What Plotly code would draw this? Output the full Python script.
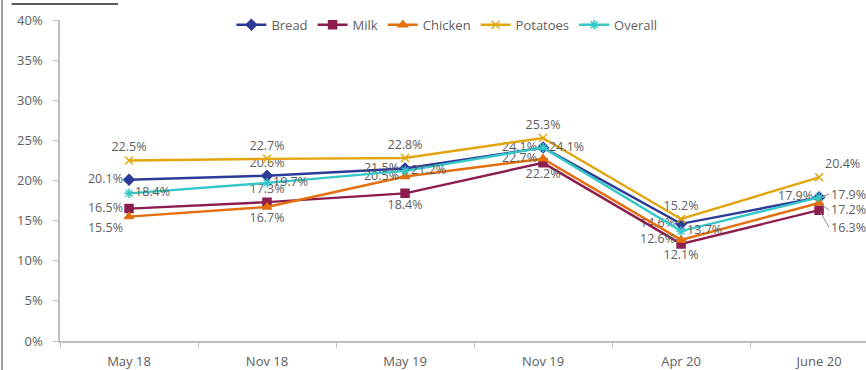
import plotly.graph_objects as go

# Survey waves and share of respondents (%) per item
periods = ["May 18", "Nov 18", "May 19", "Nov 19", "Apr 20", "June 20"]
bread = [20.1, 20.6, 21.5, 24.1, 14.6, 17.9]
milk = [16.5, 17.3, 18.4, 22.2, 12.1, 16.3]
chicken = [15.5, 16.7, 20.5, 22.7, 12.6, 17.2]
potatoes = [22.5, 22.7, 22.8, 25.3, 15.2, 20.4]
overall = [18.4, 19.7, 21.2, 24.1, 13.7, 17.9]

y_ticks = [0, 5, 10, 15, 20, 25, 30, 35, 40]

label_grey = "#5E5E5E"
axis_grey = "#BFBFBF"
FONT = "Open Sans, sans-serif"

series = [
    dict(name="Bread", y=bread, color="#2E3A97", symbol="diamond", size=8,
         pos=["middle left", "top center", "middle left", "middle left", "middle left", "middle left"]),
    dict(name="Milk", y=milk, color="#8C1D4E", symbol="square", size=8,
         pos=["middle left", "top center", "bottom center", "bottom center", "bottom center", None]),
    dict(name="Chicken", y=chicken, color="#E46F0C", symbol="triangle-up", size=8,
         pos=["bottom left", "bottom center", "middle left", "middle left", "middle left", None]),
    dict(name="Potatoes", y=potatoes, color="#E2A50E", symbol="x-thin-open", size=8,
         pos=["top center", "top center", "top center", "top center", "top center", "top right"]),
    dict(name="Overall", y=overall, color="#33C7C7", symbol="asterisk-open", size=8,
         pos=["middle right", "middle right", "middle right", "middle right", "middle right", None]),
]

fig = go.Figure()
for s in series:
    texts = [f"{v:.1f}%" if p is not None else "" for v, p in zip(s["y"], s["pos"])]
    fig.add_trace(go.Scatter(
        x=periods, y=s["y"], name=s["name"], mode="lines+markers+text",
        line=dict(color=s["color"], width=2.4),
        marker=dict(symbol=s["symbol"], size=s["size"], color=s["color"],
                    line=dict(color=s["color"], width=1.5)),
        text=texts,
        textposition=[p if p is not None else "middle right" for p in s["pos"]],
        textfont=dict(family=FONT, size=12.5, color=label_grey),
        cliponaxis=False,
    ))

# Labels at the last wave, pulled to the right with short leader lines
for vals, dy in [(overall, -3), (chicken, 7), (milk, 17)]:
    fig.add_annotation(
        x=periods[-1], y=vals[-1], text=f"{vals[-1]:.1f}%",
        showarrow=True, arrowhead=0, arrowwidth=1, arrowcolor="#8C8C8C",
        ax=10, ay=dy, xanchor="left", standoff=2,
        font=dict(family=FONT, size=12.5, color=label_grey),
    )

# Frame line on the left edge and the short rule at the top
fig.add_shape(type="line", xref="paper", yref="paper", x0=-0.072, x1=-0.072,
              y0=-0.2, y1=1.07, line=dict(color="#7F7F7F", width=1.5))
fig.add_shape(type="line", xref="paper", yref="paper", x0=-0.06, x1=0.072,
              y0=1.05, y1=1.05, line=dict(color="#222222", width=1.5))

fig.update_layout(
    width=866, height=370,
    margin=dict(l=60, r=0, t=20, b=29),
    paper_bgcolor="white", plot_bgcolor="white",
    font=dict(family=FONT, size=13, color=label_grey),
    showlegend=True,
    legend=dict(orientation="h", x=0.48, xanchor="center", y=0.985, yanchor="middle",
                font=dict(family=FONT, size=13, color=label_grey), itemwidth=30,
                tracegroupgap=0, bgcolor="rgba(0,0,0,0)"),
    xaxis=dict(range=[-0.5, 5.34], showgrid=False, showline=True, linecolor=axis_grey,
               linewidth=1.5, ticks="outside", tickson="boundaries", ticklen=5,
               tickcolor=axis_grey, tickfont=dict(family=FONT, size=13, color=label_grey),
               ticklabelstandoff=8, zeroline=False),
    yaxis=dict(range=[0, 40], tickvals=y_ticks, ticktext=[f"{t}%" for t in y_ticks],
               showgrid=False, showline=True, linecolor=axis_grey, linewidth=1.5,
               ticks="outside", ticklen=5, tickcolor=axis_grey,
               tickfont=dict(family=FONT, size=13, color=label_grey),
               ticklabelstandoff=8, zeroline=False),
)

fig.write_html("out.html")
